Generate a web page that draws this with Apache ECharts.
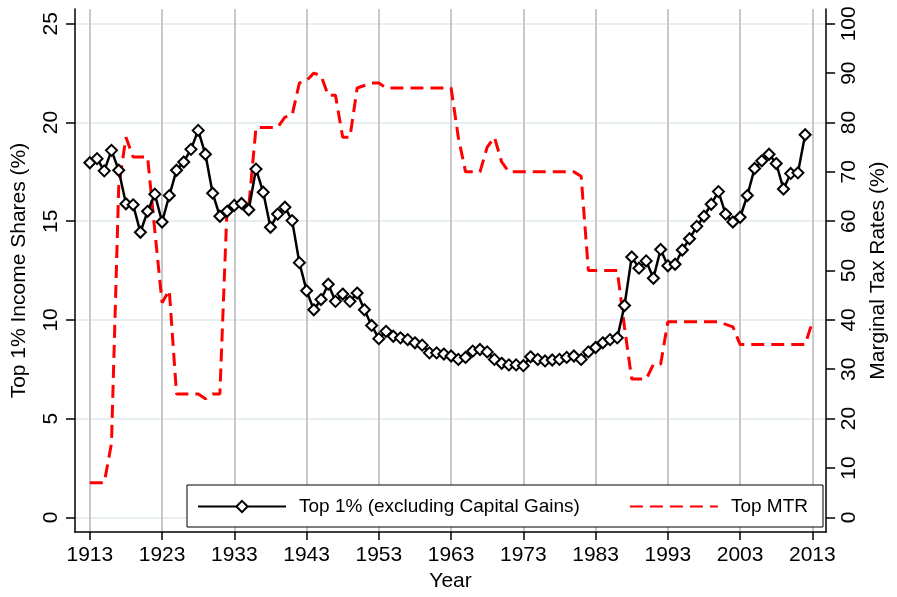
<!DOCTYPE html>
<html>
<head>
<meta charset="utf-8">
<script src="https://cdn.jsdelivr.net/npm/echarts@6/dist/echarts.min.js"></script>
<style>
  html, body { margin: 0; padding: 0; background: #fff; }
  #main { width: 897px; height: 597px; }
</style>
</head>
<body>
<div id="main"></div>
<script>
var myChart = echarts.init(document.getElementById("main"));

// years 1913..2013
var years = [];
for (var y = 1913; y <= 2013; y++) years.push(y);

// top 1% income share excl. capital gains, 1913..2012
var topShare = [
    17.96, 18.17, 17.55, 18.59, 17.58, 15.88, 15.83, 14.44, 15.50, 16.37,
    14.96, 16.30, 17.58, 18.00, 18.64, 19.60, 18.39, 16.42, 15.25, 15.50,
    15.80, 15.90, 15.58, 17.64, 16.47, 14.69, 15.36, 15.71, 15.03, 12.90,
    11.48, 10.51, 11.03, 11.81, 10.94, 11.31, 10.94, 11.36, 10.51, 9.72,
    9.05, 9.42, 9.17, 9.09, 9.00, 8.84, 8.72, 8.33, 8.33, 8.27,
    8.17, 8.00, 8.10, 8.42, 8.50, 8.38, 8.00, 7.80, 7.72, 7.72,
    7.68, 8.13, 8.00, 7.92, 7.97, 8.00, 8.10, 8.17, 8.00, 8.38,
    8.60, 8.84, 9.00, 9.09, 10.73, 13.19, 12.62, 12.99, 12.11, 13.57,
    12.74, 12.82, 13.54, 14.11, 14.74, 15.25, 15.86, 16.50, 15.36, 14.96,
    15.20, 16.30, 17.67, 18.06, 18.39, 17.92, 16.63, 17.42, 17.45, 19.38
];

// top marginal tax rate, 1913..2013
var topMTR = [
    7, 7, 7, 15, 67, 77, 73, 73, 73, 58,
    43.5, 46, 25, 25, 25, 25, 24, 25, 25, 63,
    63, 63, 63, 79, 79, 79, 79, 81.1, 81.5, 88,
    88.5, 90, 89.5, 85.5, 85.5, 77, 77, 87, 87.5, 88,
    88, 87, 87, 87, 87, 87, 87, 87, 87, 87,
    87, 77, 70, 70, 70, 75, 77, 72, 70, 70,
    70, 70, 70, 70, 70, 70, 70, 70, 69.1, 50,
    50, 50, 50, 50, 38.5, 28, 28, 28, 31, 31,
    39.6, 39.6, 39.6, 39.6, 39.6, 39.6, 39.6, 39.6, 39.1, 38.6,
    35, 35, 35, 35, 35, 35, 35, 35, 35, 35,
    39.6
];

var xTicks = [1913, 1923, 1933, 1943, 1953, 1963, 1973, 1983, 1993, 2003, 2013];
var leftTicks = [0, 5, 10, 15, 20, 25];
var rightTicks = [0, 10, 20, 30, 40, 50, 60, 70, 80, 90, 100];

var shareData = topShare.map(function (v, i) { return [years[i], v]; });
var mtrData = topMTR.map(function (v, i) { return [years[i], v]; });

var font = 'Liberation Sans';

var option = {
    animation: false,
    backgroundColor: '#fff',
    textStyle: { fontFamily: font, color: '#000' },
    grid: {
        left: 75,
        right: 64,
        top: 9,
        bottom: 60
    },
    legend: {
        left: 187,
        top: 485,
        orient: 'horizontal',
        borderColor: '#000',
        borderWidth: 1,
        backgroundColor: '#fff',
        padding: [12, 15, 11, 10],
        itemWidth: 88,
        itemHeight: 14,
        itemGap: 49,
        textStyle: { fontFamily: font, fontSize: 19, color: '#000', padding: [0, 0, 0, 8] },
        data: [
            'Top 1% (excluding Capital Gains)',
            { name: 'Top MTR', itemStyle: { opacity: 0 } }
        ]
    },
    xAxis: {
        type: 'value',
        min: 1910.95,
        max: 2014.9,
        name: 'Year',
        nameLocation: 'middle',
        nameGap: 37,
        nameTextStyle: { fontFamily: font, fontSize: 21, color: '#000' },
        axisLine: { onZero: false, lineStyle: { color: '#000', width: 1.5 } },
        axisTick: { show: true, length: 8, customValues: xTicks, lineStyle: { color: '#000', width: 1.5 } },
        axisLabel: {
            customValues: xTicks,
            formatter: function (v) { return String(v); },
            fontFamily: font, fontSize: 21, color: '#000', margin: 13
        },
        splitLine: { show: true, lineStyle: { color: '#c8c8c8', width: 2 } }
    },
    yAxis: [
        {
            type: 'value',
            position: 'left',
            min: -0.75,
            max: 25.75,
            name: 'Top 1% Income Shares (%)',
            nameLocation: 'middle',
            nameGap: 45,
            nameRotate: 90,
            nameTextStyle: { fontFamily: font, fontSize: 21, color: '#000' },
            axisLine: { show: true, onZero: false, lineStyle: { color: '#000', width: 1.5 } },
            axisTick: { show: true, length: 9, customValues: leftTicks, lineStyle: { color: '#000', width: 1.5 } },
            axisLabel: { customValues: leftTicks, rotate: 90, fontFamily: font, fontSize: 21, color: '#000', margin: 13 },
            splitLine: { show: true, lineStyle: { color: '#e6eef1', width: 2 } }
        },
        {
            type: 'value',
            position: 'right',
            min: -3,
            max: 103,
            name: 'Marginal Tax Rates (%)',
            nameLocation: 'middle',
            nameGap: 39,
            nameRotate: 90,
            nameTextStyle: { fontFamily: font, fontSize: 21, color: '#000' },
            axisLine: { show: true, onZero: false, lineStyle: { color: '#000', width: 1.5 } },
            axisTick: { show: true, length: 9, customValues: rightTicks, lineStyle: { color: '#000', width: 1.5 } },
            axisLabel: { customValues: rightTicks, rotate: 90, fontFamily: font, fontSize: 21, color: '#000', margin: 13 },
            splitLine: { show: false }
        }
    ],
    series: [
        {
            name: 'Top MTR',
            type: 'line',
            yAxisIndex: 1,
            data: mtrData,
            symbol: 'none',
            lineStyle: { color: '#ff0000', width: 3, type: [13, 7] },
            itemStyle: { color: '#ff0000' },
            z: 2
        },
        {
            name: 'Top 1% (excluding Capital Gains)',
            type: 'line',
            yAxisIndex: 0,
            data: shareData,
            symbol: 'diamond',
            symbolSize: 11,
            showAllSymbol: true,
            lineStyle: { color: '#000', width: 2.5 },
            itemStyle: { color: '#fff', borderColor: '#000', borderWidth: 2 },
            z: 3
        }
    ]
};

myChart.setOption(option);
</script>
</body>
</html>
